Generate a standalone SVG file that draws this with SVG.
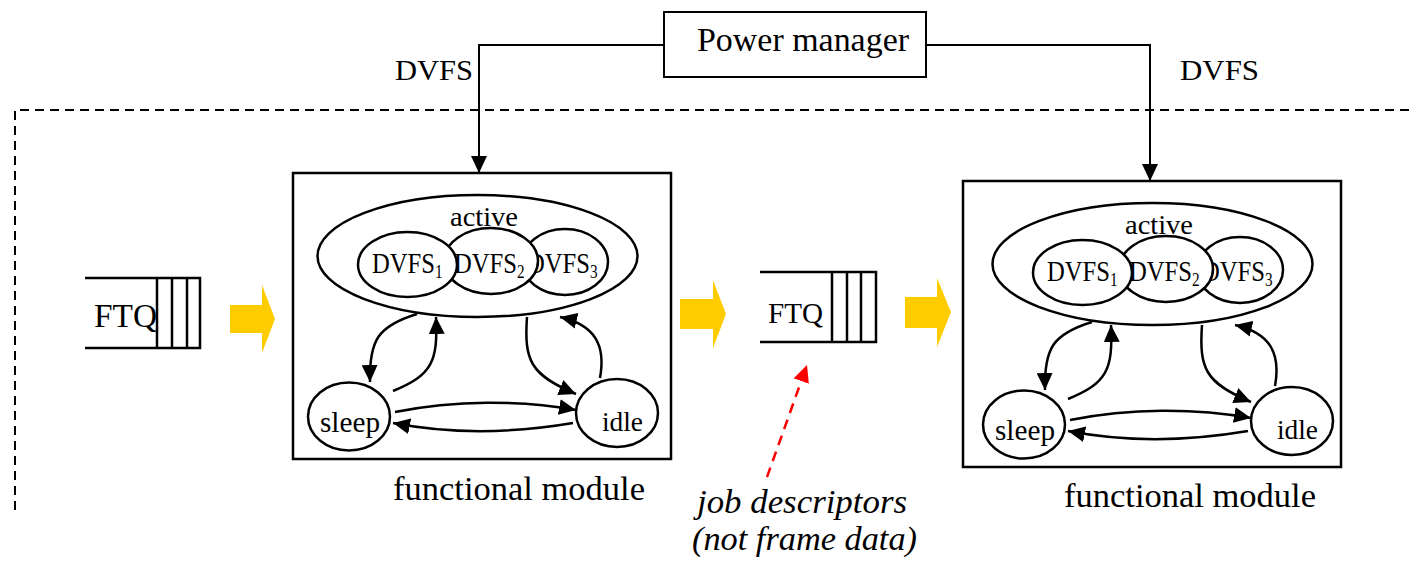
<svg xmlns="http://www.w3.org/2000/svg" width="1411" height="562" viewBox="0 0 1411 562" font-family="'Liberation Serif', 'Times New Roman', serif">
<style>
text{font-family:"Liberation Serif","Times New Roman",Times,serif;fill:#000}
.box{fill:#fff;stroke:#000;stroke-width:2.5}
.st{fill:#fff;stroke:#000;stroke-width:2.5}
.ln{fill:none;stroke:#000;stroke-width:2}
.cv{fill:none;stroke:#000;stroke-width:2.5}
.q{fill:none;stroke:#000;stroke-width:2.5}
.ya{fill:#FFCC00}
.dash{fill:none;stroke:#000;stroke-width:2;stroke-dasharray:9 6}
.red{fill:none;stroke:#FF0000;stroke-width:2.5;stroke-dasharray:10 7}
.dv{font-size:29px}
.sub{font-size:18px}
</style>
<defs>
<marker id="ah" markerUnits="userSpaceOnUse" markerWidth="18" markerHeight="16" refX="17" refY="8" orient="auto"><path d="M0,0 L17,8 L0,16 z" fill="#000"/></marker>
<marker id="ahr" markerUnits="userSpaceOnUse" markerWidth="18" markerHeight="16" refX="17" refY="8" orient="auto"><path d="M0,0 L17,8 L0,16 z" fill="#FF0000"/></marker>
</defs>
<rect width="1411" height="562" fill="#fff"/>

<g id="boundary"><path class="dash" d="M15,510 L15,110 L1411,110"/></g>

<g id="power-manager">
<rect class="box" x="664" y="12" width="262" height="65" style="stroke-width:2"/>
<text x="697" y="51" font-size="34" textLength="212" lengthAdjust="spacingAndGlyphs">Power manager</text>
</g>

<g id="ftq-in">
<path class="q" d="M85,278 H200 V348 H85 M157,278 V348 M172,278 V348 M187,278 V348"/>
<text x="94" y="327" font-size="33" textLength="63" lengthAdjust="spacingAndGlyphs">FTQ</text>
</g>

<g id="ftq-mid">
<path class="q" d="M760,272 H876 V342 H760 M832,272 V342 M847,272 V342 M861,272 V342"/>
<text x="768" y="323" font-size="29" textLength="55" lengthAdjust="spacingAndGlyphs">FTQ</text>
</g>

<g id="module1">
<rect class="box" x="293" y="173" width="378" height="286"/>
<text x="393" y="500" font-size="34" textLength="252" lengthAdjust="spacingAndGlyphs">functional module</text>
<g id="m1-active">
<ellipse class="st" cx="477.5" cy="256" rx="160" ry="61"/>
<text x="450" y="226" font-size="28" textLength="68" lengthAdjust="spacingAndGlyphs">active</text>
<ellipse class="st" cx="565" cy="262" rx="43" ry="33"/>
<text class="dv" transform="translate(527,273) scale(0.85,1)">DVFS<tspan class="sub" dy="5">3</tspan></text>
<ellipse class="st" cx="491" cy="261" rx="47" ry="33"/>
<text class="dv" transform="translate(454,273) scale(0.85,1)">DVFS<tspan class="sub" dy="5">2</tspan></text>
<ellipse class="st" cx="407.5" cy="264.5" rx="49.5" ry="32.5"/>
<text class="dv" transform="translate(372,273) scale(0.85,1)">DVFS<tspan class="sub" dy="5">1</tspan></text>
</g>
<g id="m1-sleep">
<ellipse class="st" cx="349" cy="416.5" rx="41" ry="34"/>
<text x="320" y="432" font-size="29" textLength="60" lengthAdjust="spacingAndGlyphs">sleep</text>
</g>
<g id="m1-idle">
<ellipse class="st" cx="617" cy="413" rx="41" ry="34"/>
<text x="602" y="431" font-size="28" textLength="41" lengthAdjust="spacingAndGlyphs">idle</text>
</g>
</g>

<g id="module2">
<rect class="box" x="963" y="181" width="378" height="286"/>
<text x="1064" y="507" font-size="34" textLength="252" lengthAdjust="spacingAndGlyphs">functional module</text>
<g id="m2-active" transform="translate(675,8)">
<ellipse class="st" cx="477.5" cy="256" rx="160" ry="61"/>
<text x="450" y="226" font-size="28" textLength="68" lengthAdjust="spacingAndGlyphs">active</text>
<ellipse class="st" cx="565" cy="262" rx="43" ry="33"/>
<text class="dv" transform="translate(527,273) scale(0.85,1)">DVFS<tspan class="sub" dy="5">3</tspan></text>
<ellipse class="st" cx="491" cy="261" rx="47" ry="33"/>
<text class="dv" transform="translate(454,273) scale(0.85,1)">DVFS<tspan class="sub" dy="5">2</tspan></text>
<ellipse class="st" cx="407.5" cy="264.5" rx="49.5" ry="32.5"/>
<text class="dv" transform="translate(372,273) scale(0.85,1)">DVFS<tspan class="sub" dy="5">1</tspan></text>
</g>
<g id="m2-sleep" transform="translate(675,8)">
<ellipse class="st" cx="349" cy="416.5" rx="41" ry="34"/>
<text x="320" y="432" font-size="29" textLength="60" lengthAdjust="spacingAndGlyphs">sleep</text>
</g>
<g id="m2-idle" transform="translate(675,8)">
<ellipse class="st" cx="617" cy="413" rx="41" ry="34"/>
<text x="602" y="431" font-size="28" textLength="41" lengthAdjust="spacingAndGlyphs">idle</text>
</g>
</g>

<g id="flow-arrows">
<polygon class="ya" points="230,305 262,305 262,285 275,319 262,353 262,333 230,333"/>
<polygon class="ya" points="680,299 713,299 713,280 726,314 713,348 713,329 680,329"/>
<polygon class="ya" points="905,297 937,297 937,278 951,312 937,347 937,328 905,328"/>
</g>

<g id="note">
<text x="697" y="513" font-size="33" font-style="italic" textLength="210" lengthAdjust="spacingAndGlyphs">job descriptors</text>
<text x="692" y="550" font-size="33" font-style="italic" textLength="225" lengthAdjust="spacingAndGlyphs">(not frame data)</text>
</g>

<g id="connectors">
<path class="ln" d="M664,45 L479,45 L479,173" marker-end="url(#ah)"/>
<path class="ln" d="M926,45 L1150,45 L1150,181" marker-end="url(#ah)"/>
<text x="395" y="80" font-size="30" textLength="78" lengthAdjust="spacingAndGlyphs">DVFS</text>
<text x="1180" y="80" font-size="30" textLength="79" lengthAdjust="spacingAndGlyphs">DVFS</text>
<path class="red" d="M767,477 L807,365" marker-end="url(#ahr)"/>
<g id="m1-transitions">
<path class="cv" d="M417,314 C378,326 369,340 370,382" marker-end="url(#ah)"/>
<path class="cv" d="M393,391 C432,375 438,362 436,317" marker-end="url(#ah)"/>
<path class="cv" d="M527,317 C524,360 530,375 576,394" marker-end="url(#ah)"/>
<path class="cv" d="M600,378 C606,345 595,325 560,317" marker-end="url(#ah)"/>
<path class="cv" d="M395,412 C455,400 520,400 576,410" marker-end="url(#ah)"/>
<path class="cv" d="M573,423 C520,432 455,435 393,423" marker-end="url(#ah)"/>
</g>
<g id="m2-transitions" transform="translate(675,8)">
<path class="cv" d="M417,314 C378,326 369,340 370,382" marker-end="url(#ah)"/>
<path class="cv" d="M393,391 C432,375 438,362 436,317" marker-end="url(#ah)"/>
<path class="cv" d="M527,317 C524,360 530,375 576,394" marker-end="url(#ah)"/>
<path class="cv" d="M600,378 C606,345 595,325 560,317" marker-end="url(#ah)"/>
<path class="cv" d="M395,412 C455,400 520,400 576,410" marker-end="url(#ah)"/>
<path class="cv" d="M573,423 C520,432 455,435 393,423" marker-end="url(#ah)"/>
</g>
</g>
</svg>
